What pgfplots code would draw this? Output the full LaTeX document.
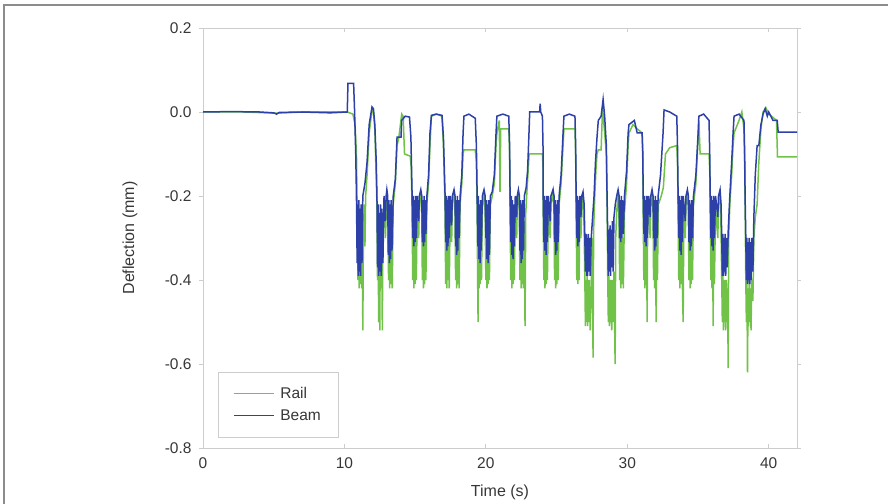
\documentclass[border=0pt]{standalone}
\usepackage{pgfplots}
\pgfplotsset{compat=1.18}
\usepackage{fontspec}
\setmainfont{Liberation Sans}
\definecolor{railc}{RGB}{112,194,72}
\definecolor{beamc}{RGB}{44,64,168}
\definecolor{axisgrey}{RGB}{205,205,205}
\definecolor{textgrey}{RGB}{55,55,55}
\definecolor{framegrey}{RGB}{140,140,140}
\begin{document}
\begin{tikzpicture}
\path[use as bounding box] (0,0) rectangle (888bp,504bp);
\draw[framegrey,line width=1.6bp] (4bp,0bp) -- (4bp,499bp) -- (888bp,499bp);
\begin{axis}[
  at={(203bp,56bp)}, anchor=south west,
  scale only axis, width=594bp, height=420bp,
  xmin=0, xmax=42, ymin=-0.8, ymax=0.2,
  xtick={0,10,20,30,40},
  ytick={-0.8,-0.6,-0.4,-0.2,0,0.2},
  /pgf/number format/assume math mode=true,
  yticklabel style={/pgf/number format/fixed, /pgf/number format/fixed zerofill, /pgf/number format/precision=1, xshift=-4bp},
  xticklabel style={/pgf/number format/fixed, /pgf/number format/precision=0, yshift=-6bp},
  axis line style={draw=axisgrey, line width=0.8bp},
  tick style={draw=axisgrey, line width=0.8bp},
  major tick length=4bp,
  ytick align=outside, xtick align=inside,
  tick label style={text=textgrey, font=\fontsize{15.5bp}{18bp}\selectfont},
  xlabel={Time (s)}, ylabel={Deflection (mm)},
  label style={text=textgrey, font=\fontsize{16bp}{19bp}\selectfont},
  xlabel style={at={(axis description cs:0.5,-0.105)}, anchor=center},
  ylabel style={at={(axis description cs:-0.123,0.5)}, anchor=center},
  legend style={at={(rel axis cs:0.025,0.026)}, anchor=south west, draw=axisgrey,
    font=\fontsize{15.5bp}{18bp}\selectfont, text=textgrey, inner xsep=15bp, inner ysep=13bp,
    row sep=6bp, column sep=4bp},
  legend cell align=left,
  legend image code/.code={\draw[#1, line width=1.3bp] (0bp,0bp) -- (40bp,0bp);},
]
\addplot[railc, line width=1.5bp] table {
0 0
3 0
5.2 -0.003
7 0
10.2 0
10.6 -0.005
10.75 -0.03
10.85 -0.10
10.92 -0.28
10.96 -0.40
11.00 -0.27
11.04 -0.42
11.08 -0.28
11.12 -0.41
11.16 -0.30
11.22 -0.42
11.26 -0.26
11.30 -0.52
11.34 -0.30
11.40 -0.22
11.45 -0.32
11.50 -0.20
11.60 -0.15
11.75 -0.05
11.95 0.005
12.05 0.0
12.15 -0.04
12.30 -0.22
12.34 -0.40
12.38 -0.27
12.42 -0.50
12.46 -0.28
12.50 -0.52
12.54 -0.27
12.58 -0.42
12.62 -0.26
12.68 -0.52
12.72 -0.28
12.80 -0.22
12.90 -0.30
13.00 -0.19
13.08 -0.24
13.12 -0.40
13.16 -0.26
13.20 -0.42
13.24 -0.27
13.28 -0.41
13.32 -0.26
13.38 -0.42
13.45 -0.22
13.60 -0.17
13.72 -0.08
13.85 -0.06
14.05 -0.005
14.15 -0.01
14.25 -0.10
14.65 -0.105
14.72 -0.13
14.78 -0.22
14.83 -0.40
14.87 -0.26
14.91 -0.42
14.95 -0.27
14.99 -0.41
15.03 -0.25
15.08 -0.40
15.15 -0.23
15.25 -0.30
15.30 -0.22
15.40 -0.19
15.47 -0.24
15.51 -0.40
15.55 -0.26
15.59 -0.42
15.63 -0.27
15.67 -0.41
15.71 -0.25
15.76 -0.40
15.83 -0.22
15.95 -0.17
16.05 -0.08
16.15 -0.01
16.50 -0.005
16.90 -0.01
17.00 -0.08
17.11 -0.22
17.16 -0.41
17.20 -0.26
17.24 -0.42
17.28 -0.27
17.32 -0.40
17.36 -0.25
17.41 -0.42
17.48 -0.23
17.58 -0.31
17.63 -0.22
17.75 -0.19
17.82 -0.24
17.86 -0.40
17.90 -0.26
17.94 -0.42
17.98 -0.27
18.02 -0.41
18.06 -0.25
18.11 -0.42
18.18 -0.22
18.30 -0.17
18.39 -0.10
18.45 -0.09
19.25 -0.09
19.33 -0.12
19.38 -0.22
19.42 -0.40
19.45 -0.50
19.48 -0.27
19.52 -0.42
19.56 -0.26
19.60 -0.41
19.64 -0.25
19.69 -0.40
19.75 -0.23
19.87 -0.19
19.95 -0.24
20.00 -0.40
20.04 -0.26
20.08 -0.42
20.12 -0.27
20.16 -0.41
20.20 -0.25
20.25 -0.40
20.32 -0.22
20.45 -0.20
20.60 -0.17
20.72 -0.08
20.78 -0.05
20.95 -0.02
21.00 -0.19
21.05 -0.04
21.62 -0.04
21.68 -0.10
21.71 -0.22
21.76 -0.40
21.80 -0.26
21.84 -0.42
21.88 -0.27
21.92 -0.41
21.96 -0.25
22.01 -0.40
22.08 -0.23
22.18 -0.30
22.22 -0.22
22.30 -0.19
22.37 -0.24
22.41 -0.40
22.45 -0.26
22.49 -0.42
22.53 -0.27
22.57 -0.41
22.61 -0.25
22.66 -0.42
22.72 -0.26
22.77 -0.51
22.82 -0.24
22.92 -0.18
23.06 -0.10
23.12 -0.10
24.00 -0.10
24.04 -0.13
24.05 -0.22
24.10 -0.40
24.14 -0.26
24.18 -0.42
24.22 -0.27
24.26 -0.41
24.30 -0.25
24.35 -0.40
24.42 -0.23
24.55 -0.30
24.60 -0.22
24.75 -0.19
24.82 -0.24
24.86 -0.40
24.90 -0.26
24.94 -0.42
24.98 -0.27
25.02 -0.41
25.06 -0.25
25.11 -0.40
25.18 -0.22
25.32 -0.17
25.46 -0.08
25.52 -0.04
26.30 -0.04
26.35 -0.10
26.38 -0.22
26.43 -0.40
26.47 -0.26
26.51 -0.41
26.55 -0.27
26.59 -0.40
26.64 -0.25
26.72 -0.30
26.78 -0.23
26.87 -0.20
26.95 -0.28
27.00 -0.40
27.04 -0.51
27.08 -0.40
27.12 -0.50
27.16 -0.39
27.20 -0.51
27.24 -0.40
27.28 -0.50
27.32 -0.40
27.38 -0.52
27.45 -0.42
27.52 -0.30
27.58 -0.585
27.62 -0.28
27.70 -0.20
27.78 -0.14
27.86 -0.10
27.95 -0.09
28.15 -0.09
28.25 0.01
28.40 -0.05
28.52 -0.10
28.57 -0.22
28.62 -0.40
28.66 -0.50
28.70 -0.39
28.74 -0.51
28.78 -0.40
28.82 -0.50
28.86 -0.40
28.90 -0.52
28.95 -0.40
29.00 -0.50
29.06 -0.38
29.14 -0.60
29.18 -0.30
29.25 -0.24
29.35 -0.19
29.42 -0.26
29.46 -0.40
29.50 -0.30
29.54 -0.42
29.58 -0.31
29.62 -0.41
29.66 -0.30
29.72 -0.42
29.80 -0.24
29.95 -0.17
30.06 -0.08
30.12 -0.05
30.40 -0.03
30.70 -0.04
31.05 -0.05
31.10 -0.12
31.12 -0.22
31.17 -0.40
31.21 -0.26
31.25 -0.42
31.29 -0.27
31.33 -0.41
31.37 -0.26
31.40 -0.50
31.44 -0.25
31.50 -0.23
31.62 -0.30
31.66 -0.22
31.75 -0.19
31.82 -0.24
31.86 -0.40
31.90 -0.26
31.94 -0.42
31.98 -0.27
32.04 -0.50
32.08 -0.25
32.13 -0.40
32.20 -0.22
32.40 -0.20
32.55 -0.18
32.70 -0.10
33.00 -0.085
33.50 -0.08
33.55 -0.12
33.59 -0.22
33.64 -0.40
33.68 -0.26
33.72 -0.42
33.76 -0.27
33.80 -0.41
33.84 -0.25
33.89 -0.40
33.95 -0.50
34.00 -0.23
34.10 -0.30
34.15 -0.22
34.25 -0.19
34.32 -0.24
34.36 -0.40
34.40 -0.26
34.44 -0.42
34.48 -0.27
34.52 -0.41
34.56 -0.25
34.61 -0.40
34.68 -0.22
34.85 -0.17
35.01 -0.06
35.06 -0.02
35.15 -0.10
35.78 -0.10
35.83 -0.14
35.86 -0.22
35.91 -0.40
35.95 -0.26
35.99 -0.42
36.03 -0.27
36.07 -0.51
36.11 -0.26
36.16 -0.41
36.24 -0.23
36.40 -0.30
36.45 -0.22
36.56 -0.19
36.63 -0.28
36.68 -0.40
36.72 -0.50
36.76 -0.39
36.80 -0.52
36.84 -0.40
36.88 -0.50
36.92 -0.40
36.96 -0.52
37.00 -0.40
37.06 -0.50
37.10 -0.42
37.13 -0.61
37.17 -0.30
37.25 -0.22
37.38 -0.15
37.48 -0.08
37.55 -0.05
37.90 -0.02
38.10 0.0
38.25 -0.04
38.30 -0.12
38.33 -0.22
38.38 -0.40
38.42 -0.50
38.46 -0.40
38.50 -0.62
38.54 -0.42
38.58 -0.51
38.62 -0.40
38.66 -0.50
38.70 -0.42
38.75 -0.52
38.80 -0.40
38.88 -0.45
38.95 -0.30
39.05 -0.25
39.18 -0.22
39.30 -0.12
39.45 -0.04
39.60 0.0
39.80 0.01
40.00 -0.005
40.20 -0.01
40.55 -0.02
40.62 -0.107
42.0 -0.107
};
\addlegendentry{Rail}
\addplot[beamc, line width=1.5bp] table {
0 0
2 0.001
4 0
5.0 -0.002
5.2 -0.005
5.4 -0.001
7 0
9 -0.002
10.2 0
10.25 0.068
10.65 0.068
10.72 0.0
10.80 -0.10
10.85 -0.20
10.90 -0.36
10.94 -0.22
10.98 -0.39
11.02 -0.21
11.06 -0.38
11.10 -0.23
11.14 -0.39
11.18 -0.22
11.24 -0.36
11.30 -0.20
11.45 -0.17
11.60 -0.12
11.75 -0.03
11.95 0.012
12.05 0.008
12.15 -0.03
12.25 -0.12
12.30 -0.20
12.34 -0.37
12.38 -0.22
12.42 -0.39
12.46 -0.24
12.50 -0.38
12.55 -0.22
12.60 -0.39
12.65 -0.23
12.72 -0.36
12.80 -0.20
12.90 -0.26
12.95 -0.20
13.00 -0.185
13.06 -0.20
13.10 -0.34
13.14 -0.21
13.18 -0.36
13.22 -0.22
13.26 -0.35
13.30 -0.21
13.36 -0.33
13.45 -0.20
13.60 -0.16
13.72 -0.06
14.00 -0.06
14.05 -0.02
14.30 -0.01
14.60 -0.012
14.70 -0.06
14.78 -0.19
14.83 -0.30
14.87 -0.20
14.91 -0.32
14.95 -0.21
14.99 -0.31
15.03 -0.20
15.08 -0.30
15.15 -0.20
15.25 -0.26
15.30 -0.20
15.40 -0.185
15.47 -0.20
15.51 -0.31
15.55 -0.21
15.59 -0.32
15.63 -0.20
15.67 -0.31
15.71 -0.21
15.76 -0.29
15.83 -0.20
15.95 -0.15
16.05 -0.05
16.15 -0.008
16.50 -0.005
16.90 -0.008
17.00 -0.06
17.11 -0.19
17.16 -0.31
17.20 -0.20
17.24 -0.33
17.28 -0.21
17.32 -0.32
17.36 -0.20
17.41 -0.30
17.48 -0.20
17.58 -0.27
17.63 -0.20
17.75 -0.185
17.82 -0.20
17.86 -0.32
17.90 -0.21
17.94 -0.34
17.98 -0.20
18.02 -0.33
18.06 -0.21
18.11 -0.30
18.18 -0.20
18.30 -0.15
18.39 -0.05
18.45 -0.01
18.80 -0.005
19.25 -0.015
19.33 -0.08
19.38 -0.19
19.43 -0.32
19.47 -0.20
19.51 -0.35
19.55 -0.22
19.59 -0.36
19.63 -0.21
19.68 -0.33
19.75 -0.20
19.87 -0.185
19.95 -0.20
20.00 -0.30
20.04 -0.21
20.08 -0.35
20.12 -0.22
20.16 -0.36
20.20 -0.21
20.25 -0.34
20.32 -0.20
20.45 -0.19
20.60 -0.15
20.72 -0.05
20.78 -0.01
21.20 -0.005
21.62 -0.01
21.68 -0.08
21.71 -0.19
21.76 -0.31
21.80 -0.20
21.84 -0.34
21.88 -0.21
21.92 -0.35
21.96 -0.22
22.01 -0.32
22.08 -0.20
22.18 -0.25
22.22 -0.20
22.30 -0.185
22.37 -0.20
22.41 -0.33
22.45 -0.21
22.49 -0.36
22.53 -0.22
22.57 -0.35
22.61 -0.21
22.66 -0.33
22.72 -0.20
22.85 -0.18
22.95 -0.14
23.06 -0.04
23.10 0.0
23.80 0.0
23.84 0.02
23.88 0.0
24.00 -0.01
24.04 -0.08
24.05 -0.19
24.10 -0.31
24.14 -0.20
24.18 -0.33
24.22 -0.21
24.26 -0.34
24.30 -0.20
24.35 -0.31
24.42 -0.20
24.55 -0.26
24.60 -0.20
24.75 -0.185
24.82 -0.20
24.86 -0.31
24.90 -0.21
24.94 -0.34
24.98 -0.22
25.02 -0.33
25.06 -0.21
25.11 -0.31
25.18 -0.20
25.32 -0.15
25.46 -0.05
25.52 -0.01
25.90 -0.005
26.30 -0.01
26.35 -0.08
26.38 -0.19
26.43 -0.30
26.47 -0.20
26.51 -0.32
26.55 -0.21
26.59 -0.31
26.64 -0.20
26.72 -0.25
26.78 -0.20
26.87 -0.19
26.95 -0.22
27.00 -0.30
27.04 -0.38
27.08 -0.29
27.12 -0.39
27.16 -0.30
27.20 -0.39
27.24 -0.29
27.28 -0.38
27.32 -0.30
27.38 -0.39
27.45 -0.30
27.55 -0.25
27.65 -0.20
27.75 -0.12
27.86 -0.06
27.95 -0.02
28.15 -0.01
28.29 0.03
28.40 -0.01
28.52 -0.08
28.57 -0.20
28.62 -0.30
28.66 -0.39
28.70 -0.28
28.74 -0.38
28.78 -0.27
28.82 -0.39
28.86 -0.28
28.90 -0.37
28.95 -0.26
29.00 -0.38
29.06 -0.25
29.15 -0.22
29.25 -0.20
29.35 -0.185
29.42 -0.20
29.46 -0.30
29.50 -0.21
29.54 -0.31
29.58 -0.20
29.62 -0.30
29.66 -0.21
29.72 -0.29
29.80 -0.20
29.95 -0.14
30.06 -0.05
30.12 -0.03
30.50 -0.02
30.70 -0.05
31.05 -0.05
31.10 -0.10
31.12 -0.19
31.17 -0.29
31.21 -0.20
31.25 -0.31
31.29 -0.21
31.33 -0.32
31.37 -0.20
31.42 -0.30
31.50 -0.20
31.62 -0.25
31.66 -0.20
31.75 -0.185
31.82 -0.20
31.86 -0.30
31.90 -0.21
31.94 -0.33
31.98 -0.20
32.02 -0.32
32.06 -0.21
32.11 -0.30
32.18 -0.20
32.35 -0.15
32.53 -0.05
32.60 0.005
33.00 0.0
33.50 -0.01
33.55 -0.08
33.59 -0.19
33.64 -0.30
33.68 -0.20
33.72 -0.33
33.76 -0.21
33.80 -0.34
33.84 -0.20
33.89 -0.31
33.96 -0.20
34.10 -0.26
34.15 -0.20
34.25 -0.185
34.32 -0.20
34.36 -0.31
34.40 -0.21
34.44 -0.33
34.48 -0.22
34.52 -0.32
34.56 -0.21
34.61 -0.30
34.68 -0.20
34.85 -0.15
35.01 -0.05
35.06 -0.01
35.40 -0.005
35.78 -0.02
35.83 -0.10
35.86 -0.19
35.91 -0.30
35.95 -0.20
35.99 -0.32
36.03 -0.21
36.07 -0.33
36.11 -0.20
36.16 -0.30
36.24 -0.20
36.40 -0.25
36.45 -0.20
36.56 -0.185
36.63 -0.22
36.68 -0.30
36.72 -0.39
36.76 -0.29
36.80 -0.39
36.84 -0.30
36.88 -0.38
36.92 -0.29
36.96 -0.39
37.00 -0.30
37.06 -0.37
37.14 -0.28
37.25 -0.20
37.38 -0.12
37.48 -0.05
37.55 -0.01
37.90 -0.005
38.25 -0.02
38.30 -0.10
38.33 -0.20
38.38 -0.30
38.42 -0.40
38.46 -0.30
38.50 -0.41
38.54 -0.31
38.58 -0.40
38.62 -0.30
38.66 -0.41
38.70 -0.31
38.75 -0.40
38.80 -0.30
38.88 -0.38
38.95 -0.25
39.05 -0.15
39.18 -0.08
39.30 -0.08
39.45 -0.03
39.60 -0.005
39.75 0.008
39.90 -0.01
40.00 0.0
40.30 -0.02
40.60 -0.02
40.67 -0.048
42.0 -0.048
};
\addlegendentry{Beam}
\end{axis}
\end{tikzpicture}
\end{document}
